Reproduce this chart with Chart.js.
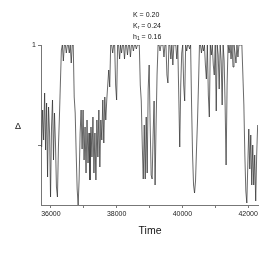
<!DOCTYPE html>
<html>
<head>
<meta charset="utf-8">
<script src="https://cdn.jsdelivr.net/npm/chart.js@4/dist/chart.umd.min.js"></script>
<style>
  html, body { margin: 0; padding: 0; background: #fff; }
  #chart { display: block; }
</style>
</head>
<body>
<canvas id="chart" width="277" height="255"></canvas>
<script>
// sampling times of the run
const times = [
  35720, 35750, 35780, 35810, 35840, 35870, 35900, 35930, 35960, 35990,
  36020, 36050, 36080, 36110, 36140, 36170, 36200, 36230, 36260, 36290,
  36320, 36350, 36380, 36410, 36440, 36470, 36500, 36530, 36560, 36590,
  36620, 36650, 36680, 36710, 36740, 36770, 36800, 36830, 36860, 36890,
  36920, 36950, 36980, 37010, 37040, 37070, 37100, 37130, 37160, 37190,
  37220, 37250, 37280, 37310, 37340, 37370, 37400, 37430, 37460, 37490,
  37520, 37550, 37580, 37610, 37640, 37670, 37700, 37730, 37760, 37790,
  37820, 37850, 37880, 37910, 37940, 37970, 38000, 38030, 38060, 38090,
  38120, 38150, 38180, 38210, 38240, 38270, 38300, 38330, 38360, 38390,
  38420, 38450, 38480, 38510, 38540, 38570, 38600, 38630, 38660, 38690,
  38720, 38750, 38780, 38810, 38840, 38870, 38900, 38930, 38960, 38990,
  39020, 39050, 39080, 39110, 39140, 39170, 39200, 39230, 39260, 39290,
  39320, 39350, 39380, 39410, 39440, 39470, 39500, 39530, 39560, 39590,
  39620, 39650, 39680, 39710, 39740, 39770, 39800, 39830, 39860, 39890,
  39920, 39950, 39980, 40010, 40040, 40070, 40100, 40130, 40160, 40190,
  40220, 40250, 40280, 40310, 40340, 40370, 40400, 40430, 40460, 40490,
  40520, 40550, 40580, 40610, 40640, 40670, 40700, 40730, 40760, 40790,
  40820, 40850, 40880, 40910, 40940, 40970, 41000, 41030, 41060, 41090,
  41120, 41150, 41180, 41210, 41240, 41270, 41300, 41330, 41360, 41390,
  41420, 41450, 41480, 41510, 41540, 41570, 41600, 41630, 41660, 41690,
  41720, 41750, 41780, 41810, 41840, 41870, 41900, 41930, 41960, 41990,
  42020, 42050, 42080, 42110, 42140, 42170, 42200, 42230, 42260, 42290
];

// order parameter Delta
const delta = [
  0.49, 0.675, 0.525, 0.76, 0.475, 0.71, 0.34, 0.69, 0.56, 0.24,
  0.59, 0.725, 0.425, 0.66, 0.51, 0.29, 0.24, 0.49, 0.64, 0.81,
  0.975, 1, 0.92, 1, 1, 0.96, 1, 1, 0.96, 1,
  0.91, 1, 1, 0.74, 0.66, 0.46, 0.28, 0.2, 0.33, 0.56,
  0.675, 0.48, 0.675, 0.425, 0.59, 0.36, 0.625, 0.41, 0.56, 0.325,
  0.59, 0.44, 0.64, 0.36, 0.56, 0.325, 0.625, 0.44, 0.675, 0.39,
  0.625, 0.525, 0.725, 0.51, 0.74, 0.625, 0.725, 0.8,
  0.875, 0.79, 1,
  1, 0.96, 1, 1, 0.8, 0.725, 1, 1, 0.93, 1,
  0.96, 1, 1, 0.93, 1, 1, 0.95, 1, 1, 0.94,
  1, 1, 0.97, 1, 1, 0.98, 1, 1, 1,
  0.8, 0.72, 0.5, 0.33, 0.6, 0.33, 0.64, 0.36, 0.78, 0.9,
  0.6, 0.35, 0.33, 0.55, 0.72, 0.3, 0.6, 0.85, 1,
  1, 0.97, 1, 1, 1, 0.94, 1, 1, 0.85, 0.81, 1, 1, 0.93, 1, 0.9, 1, 1,
  1, 0.93, 1, 0.75, 0.49, 0.8, 0.96, 1, 0.8, 0.72,
  1, 0.97, 1, 1, 0.98, 1, 0.7, 0.45, 0.3, 0.26,
  0.32, 0.48, 0.62, 0.8, 1,
  1, 0.96, 1, 0.97, 1, 0.9, 0.83, 1, 0.75, 0.64,
  1, 0.95, 1, 0.9, 0.85, 1, 0.67, 1, 0.95, 0.78,
  1, 0.92, 0.7, 1, 0.92, 0.7, 0.4, 0.8, 1, 0.96,
  1, 0.93, 1, 0.89, 1, 0.96, 0.91, 1, 0.94, 1,
  1, 1,
  1, 0.85, 0.7, 0.45, 0.27, 0.21, 0.4, 0.58, 0.38, 0.55,
  0.3, 0.5, 0.3, 0.45, 0.22, 0.45, 0.6
];

const xTicks = [36000, 37000, 38000, 39000, 40000, 41000, 42000];
const yTicks = [0.5, 1];

const FONT = "'Liberation Sans', Arial, sans-serif";

// annotation text, axis symbols
const textPlugin = {
  id: 'labels',
  afterDraw(chart) {
    const ctx = chart.ctx;
    ctx.save();
    ctx.fillStyle = '#111';
    ctx.textBaseline = 'middle';
    ctx.textAlign = 'left';

    function subLine(x, y, main, sub, rest) {
      ctx.font = '7px ' + FONT;
      ctx.fillText(main, x, y);
      let w = ctx.measureText(main).width;
      if (sub) {
        ctx.font = '5px ' + FONT;
        ctx.fillText(sub, x + w, y + 2);
        w += ctx.measureText(sub).width;
      }
      ctx.font = '7px ' + FONT;
      ctx.fillText(rest, x + w, y);
    }
    subLine(133, 15, 'K', '', ' = 0.20');
    subLine(133, 26, 'K', 'r', ' = 0.24');
    subLine(133, 37, 'h', '1', ' = 0.16');

    ctx.textAlign = 'center';
    ctx.font = '9px ' + FONT;
    ctx.fillText('\u0394', 18, 127);
    ctx.font = '10.5px ' + FONT;
    ctx.fillText('Time', 150, 231);
    ctx.restore();
  }
};

new Chart(document.getElementById('chart'), {
  type: 'line',
  data: {
    datasets: [{
      data: times.map((t, i) => ({ x: t, y: delta[i] })),
      borderColor: '#2a2a2a',
      borderWidth: 0.7,
      pointRadius: 0,
      tension: 0,
      fill: false
    }]
  },
  options: {
    responsive: false,
    animation: false,
    layout: { padding: { top: 45, right: 19, left: 0, bottom: 0 } },
    plugins: { legend: { display: false }, tooltip: { enabled: false } },
    scales: {
      x: {
        type: 'linear',
        min: 35700,
        max: 42300,
        afterBuildTicks: s => { s.ticks = xTicks.map(v => ({ value: v })); },
        afterFit: s => { s.height = 50; },
        ticks: {
          callback: v => (v % 2000 === 0 ? String(v) : ''),
          font: { size: 7, family: FONT },
          color: '#222',
          maxRotation: 0,
          autoSkip: false,
          padding: 2
        },
        grid: { drawOnChartArea: false, tickLength: 3, color: '#777' },
        border: { color: '#777', width: 1 }
      },
      y: {
        min: 0.2,
        max: 1,
        afterBuildTicks: s => { s.ticks = yTicks.map(v => ({ value: v })); },
        afterFit: s => { s.width = 41; },
        ticks: {
          callback: v => (v === 1 ? '1' : ''),
          font: { size: 7, family: FONT },
          color: '#222',
          padding: 2
        },
        grid: { drawOnChartArea: false, tickLength: 3, color: '#777' },
        border: { color: '#777', width: 1 }
      }
    }
  },
  plugins: [textPlugin]
});
</script>
</body>
</html>
